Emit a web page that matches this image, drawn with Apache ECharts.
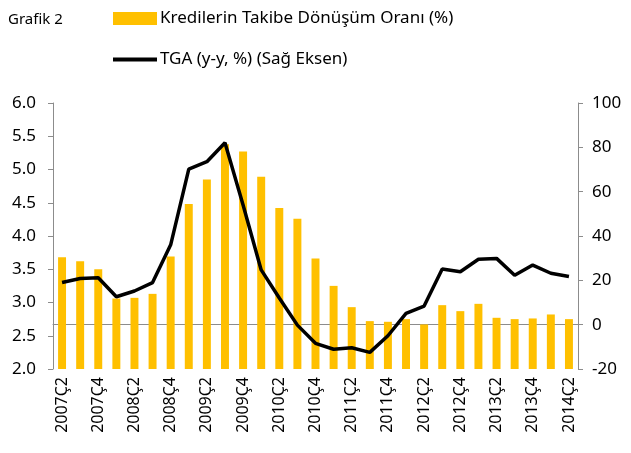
<!DOCTYPE html>
<html lang="tr">
<head>
    <meta charset="UTF-8">
    <title>Grafik 2</title>
    <script src="https://cdn.jsdelivr.net/npm/echarts@6/dist/echarts.min.js"></script>
    <style>
        html, body { margin: 0; padding: 0; background: #fff; }
    </style>
</head>
<body>
    <div id="main" style="width: 631px;height:453px;"></div>
    <script type="text/javascript">
        // çeyrekler
        var quarters = ['2007Ç2', '2007Ç3', '2007Ç4',
            '2008Ç1', '2008Ç2', '2008Ç3', '2008Ç4',
            '2009Ç1', '2009Ç2', '2009Ç3', '2009Ç4',
            '2010Ç1', '2010Ç2', '2010Ç3', '2010Ç4',
            '2011Ç1', '2011Ç2', '2011Ç3', '2011Ç4',
            '2012Ç1', '2012Ç2', '2012Ç3', '2012Ç4',
            '2013Ç1', '2013Ç2', '2013Ç3', '2013Ç4',
            '2014Ç1', '2014Ç2'];
        // Kredilerin takibe dönüşüm oranı (%), sol eksen
        var takibeDonusum = [3.68, 3.62, 3.50, 3.06, 3.07, 3.13, 3.69, 4.48, 4.85, 5.38,
            5.27, 4.89, 4.42, 4.26, 3.66, 3.25, 2.93, 2.72, 2.71, 2.75,
            2.67, 2.96, 2.87, 2.98, 2.77, 2.75, 2.76, 2.82, 2.75];
        // TGA (y-y, %), sağ eksen
        var tga = [19.0, 20.8, 21.2, 12.6, 15.2, 19.0, 36.0, 70.2, 73.5, 82.1,
            54.0, 24.7, 12.0, -0.2, -8.4, -11.1, -10.4, -12.5, -5.0, 5.1,
            8.4, 25.1, 23.9, 29.5, 29.9, 22.3, 26.9, 23.2, 21.7];

        var font = 'Noto Sans';
        var axisGray = '#8c8c8c';

        var myChart = echarts.init(document.getElementById('main'));
        var option = {
            animation: false,
            backgroundColor: '#fff',
            textStyle: { fontFamily: font, color: '#000' },
            title: {
                text: 'Grafik 2',
                left: 3, top: 7,
                textStyle: { fontFamily: font, fontSize: 15, fontWeight: 'normal', color: '#000' }
            },
            legend: {
                orient: 'vertical',
                left: 108, top: 5,
                itemWidth: 44, itemHeight: 13,
                itemGap: 24,
                textStyle: { fontFamily: font, fontSize: 17, color: '#000', padding: [0, 0, 0, -2] },
                data: [
                    { name: 'Kredilerin Takibe Dönüşüm Oranı (%)', icon: 'rect' },
                    { name: 'TGA (y-y, %) (Sağ Eksen)', icon: 'path://M0,0H44V4H0Z' }
                ]
            },
            grid: { left: 53, right: 53, top: 103, bottom: 84 },
            xAxis: {
                type: 'category',
                data: quarters,
                axisLine: { lineStyle: { color: axisGray } },
                axisTick: { interval: 0, length: 5, lineStyle: { color: axisGray } },
                axisLabel: {
                    interval: 1, rotate: 90, fontSize: 16, color: '#000',
                    fontFamily: font, margin: 8
                }
            },
            yAxis: [
                {
                    type: 'value',
                    min: 2, max: 6, interval: 0.5,
                    splitLine: { show: false },
                    axisLine: { show: true, lineStyle: { color: axisGray } },
                    axisTick: { show: true, length: 5, lineStyle: { color: axisGray } },
                    axisLabel: {
                        fontSize: 17, color: '#000', margin: 17,
                        formatter: function (v) { return v.toFixed(1); }
                    }
                },
                {
                    type: 'value',
                    min: -20, max: 100, interval: 20,
                    splitLine: { show: false },
                    axisLine: { show: true, lineStyle: { color: axisGray } },
                    axisTick: { show: true, length: 5, lineStyle: { color: axisGray } },
                    axisLabel: { fontSize: 17, color: '#000', margin: 14 }
                }
            ],
            series: [
                {
                    name: 'Kredilerin Takibe Dönüşüm Oranı (%)',
                    type: 'bar',
                    yAxisIndex: 0,
                    barWidth: '44%',
                    itemStyle: { color: '#ffc000' },
                    data: takibeDonusum
                },
                {
                    name: 'TGA (y-y, %) (Sağ Eksen)',
                    type: 'line',
                    yAxisIndex: 1,
                    symbol: 'none',
                    lineStyle: { color: '#000', width: 3.5 },
                    itemStyle: { color: '#000' },
                    data: tga
                }
            ]
        };
        myChart.setOption(option);
    </script>
</body>
</html>
